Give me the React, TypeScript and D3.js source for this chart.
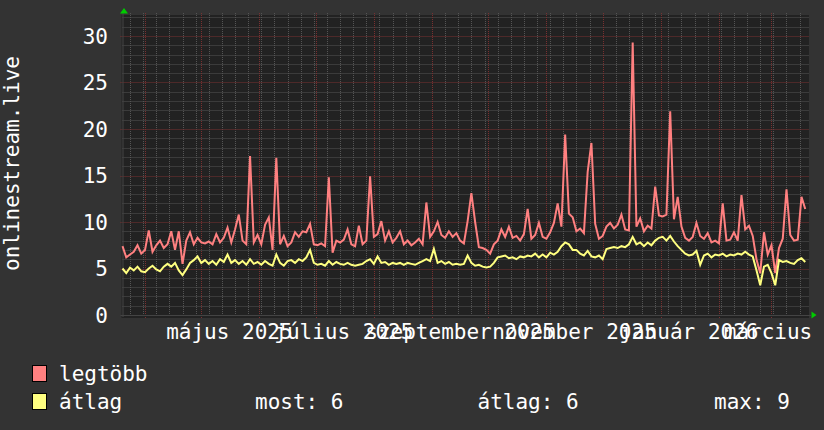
import React from "react";
import * as d3 from "d3";

// ---- data (2-day samples starting 2025-03-20) ----
const START_DATE = new Date(2025, 2, 20);
const END_DATE = new Date(2026, 2, 21);
const STEP_DAYS = 2;

const MAX_VALUES = [
  7.4, 6.2, 6.5, 6.8, 7.5, 6.6, 7.0, 9.1, 6.8, 7.5,
  8.0, 7.2, 7.6, 9.0, 7.0, 9.0, 5.5, 8.0, 8.9, 7.6,
  8.3, 7.8, 7.7, 7.9, 7.6, 8.7, 7.8, 8.3, 9.4, 7.8,
  9.2, 10.8, 8.0, 7.6, 17.1, 7.8, 8.6, 7.6, 9.7, 10.5,
  7.0, 16.9, 7.6, 8.5, 7.4, 7.8, 8.9, 8.4, 9.0, 8.9,
  9.8, 7.6, 7.5, 7.7, 7.4, 14.8, 6.7, 8.0, 7.8, 8.1,
  9.2, 7.6, 7.4, 9.6, 7.6, 8.0, 14.9, 8.4, 8.7, 10.1,
  8.0, 9.0, 7.8, 8.3, 9.0, 7.6, 8.0, 7.5, 7.8, 8.2,
  7.6, 12.1, 8.4, 9.0, 10.0, 8.6, 8.3, 9.0, 8.4, 8.8,
  8.0, 7.7, 10.1, 13.1, 10.0, 7.3, 7.2, 7.0, 6.6, 7.6,
  8.0, 9.2, 8.4, 9.5, 8.3, 8.5, 8.0, 8.7, 11.4, 8.2,
  8.6, 9.9, 8.4, 8.2, 8.9, 9.9, 12.0, 9.5, 19.4, 10.9,
  10.5, 9.0, 9.3, 8.8, 15.4, 18.5, 9.8, 8.2, 8.5, 9.5,
  9.9, 9.3, 9.7, 10.8, 9.2, 9.1, 29.3, 9.5, 10.4, 9.0,
  9.6, 9.3, 13.8, 10.7, 10.6, 10.8, 21.9, 10.3, 12.7, 9.5,
  8.3, 8.0, 8.4, 9.9, 8.5, 8.2, 8.8, 7.8, 8.0, 7.7,
  12.0, 8.0, 8.1, 8.9, 8.0, 12.9, 9.2, 9.6, 8.5, 6.0,
  4.5, 8.9, 6.5, 7.5, 4.5, 7.2, 8.2, 13.5, 8.6, 8.0,
  8.1, 12.7, 11.4,
];

const AVG_VALUES = [
  5.0, 4.5, 5.1, 4.8, 5.2, 4.7, 4.6, 5.0, 5.3, 4.9,
  4.7, 5.2, 5.5, 5.2, 5.6, 4.8, 4.3, 4.9, 5.6, 5.9,
  6.3, 5.6, 5.9, 5.5, 5.8, 5.4, 6.0, 5.7, 6.5, 5.6,
  5.9, 5.5, 5.8, 5.4, 6.0, 5.5, 5.7, 5.4, 5.8, 5.5,
  5.3, 6.5, 5.6, 5.3, 5.8, 5.9, 5.6, 6.0, 5.8, 6.2,
  7.0, 5.6, 5.4, 5.5, 5.3, 5.8, 5.4, 5.7, 5.5, 5.4,
  5.6, 5.4, 5.3, 5.4, 5.5, 5.8, 6.0, 5.5, 6.3, 5.6,
  5.7, 5.4, 5.6, 5.5, 5.6, 5.4, 5.6, 5.5, 5.4, 5.6,
  5.8, 6.0, 5.8, 7.1, 5.6, 5.8, 5.5, 5.7, 5.4, 5.5,
  5.4, 5.5, 6.4, 5.6, 5.3, 5.4, 5.2, 5.1, 5.2, 5.6,
  6.2, 6.3, 6.4, 6.1, 6.2, 6.0, 6.3, 6.2, 6.4, 6.3,
  6.6, 6.2, 6.5, 6.2, 6.7, 6.5, 6.8, 7.4, 7.8, 7.6,
  7.0, 7.0, 6.6, 6.4, 6.9, 6.3, 6.2, 6.4, 6.0, 7.1,
  7.2, 7.3, 7.2, 7.4, 7.3, 7.6, 8.4, 7.6, 7.8, 7.4,
  7.8, 7.5, 8.0, 8.3, 8.4, 8.0, 8.5, 7.9, 7.4, 7.0,
  6.6, 6.4, 6.5, 6.9, 5.4, 6.4, 6.6, 6.2, 6.5, 6.4,
  6.6, 6.3, 6.5, 6.4, 6.6, 6.5, 6.8, 6.5, 6.3, 4.8,
  3.2, 5.2, 5.4, 4.5, 3.2, 5.9, 5.7, 5.8, 5.6, 5.5,
  5.9, 6.1, 5.7,
];

const Y_TICKS = [0, 5, 10, 15, 20, 25, 30];
const X_LABELS = ["május 2025", "július 2025", "szeptember 2025", "november 2025", "január 2026", "március 2026"];
const X_LABEL_MONTHS = [
  new Date(2025, 4, 1), new Date(2025, 6, 1), new Date(2025, 8, 1),
  new Date(2025, 10, 1), new Date(2026, 0, 1), new Date(2026, 2, 1),
];
const Y_TITLE = "onlinestream.live";
const SERIES_NAMES = ["legtöbb", "átlag"];
const SERIES_COLORS = ["#ff8080", "#ffff80"];
const STATS = ["most: 6", "átlag: 6", "max: 9"];

// ---- layout ----
const W = 824, H = 430;
const PL = 122.5, PR = 809, PT = 15, PB = 315;
const FONT = "'DejaVu Sans Mono', monospace";

export default function App() {
  const x = d3.scaleTime().domain([START_DATE, END_DATE]).range([PL, PR]);
  const y = d3.scaleLinear().domain([0, 30]).range([PB, 36]);
  const yTop = y.invert(PT);

  const dateOf = (i: number) => d3.timeDay.offset(START_DATE, i * STEP_DAYS);
  const line = d3.line<number>().x((_, i) => x(dateOf(i))).y((v) => y(v));

  const minorY = d3.range(1, Math.floor(yTop) + 1).filter((v) => v % 5 !== 0);
  const majorY = Y_TICKS.filter((v) => v > 0);
  const weeks = d3.timeMonday.range(START_DATE, END_DATE);
  const months = d3.timeMonth.range(d3.timeDay.offset(START_DATE, 1), END_DATE);

  const minorColor = "#555555";
  const majorColor = "#7a3030";

  return (
    <svg width={W} height={H} style={{ position: "absolute", left: 0, top: 0, display: "block" }}
      xmlns="http://www.w3.org/2000/svg">
      <rect x={0} y={0} width={W} height={H} fill="#333333" />
      <rect x={PL - 1} y={PT} width={PR - PL + 1} height={PB - PT + 3} fill="#222222" />

      {/* minor grid */}
      {minorY.map((v) => (
        <line key={"my" + v} x1={PL} x2={PR} y1={Math.round(y(v)) + 0.5} y2={Math.round(y(v)) + 0.5}
          stroke={minorColor} strokeDasharray="1,1" />
      ))}
      {weeks.map((d) => (
        <line key={"wk" + d.getTime()} x1={Math.round(x(d)) + 0.5} x2={Math.round(x(d)) + 0.5} y1={PT - 2} y2={PB + 2}
          stroke={minorColor} strokeDasharray="1,1" />
      ))}
      {/* major grid */}
      {majorY.map((v) => (
        <line key={"My" + v} x1={PL - 2} x2={PR} y1={Math.round(y(v)) + 0.5} y2={Math.round(y(v)) + 0.5}
          stroke={majorColor} strokeDasharray="1,1" />
      ))}
      {months.map((d) => (
        <line key={"mo" + d.getTime()} x1={Math.round(x(d)) + 0.5} x2={Math.round(x(d)) + 0.5} y1={PT - 2} y2={PB + 4}
          stroke={majorColor} strokeDasharray="1,1" />
      ))}

      {/* axes */}
      <line x1={PL - 2} x2={PR + 2} y1={PB + 0.5} y2={PB + 0.5} stroke="#444444" />
      <line x1={PL + 0.5} x2={PL + 0.5} y1={PT - 2} y2={PB + 2} stroke="#444444" />
      <polygon points={`${PL - 2.5},13.5 ${PL + 5.5},13.5 ${PL + 1.5},8`} fill="#00cc00" />
      <polygon points={`${PR + 2.5},${PB - 3.5} ${PR + 2.5},${PB + 3.5} ${PR + 7.5},${PB}`} fill="#00cc00" />

      {/* series */}
      <path d={line(MAX_VALUES) || ""} fill="none" stroke={SERIES_COLORS[0]} strokeWidth={2} strokeLinejoin="miter" />
      <path d={line(AVG_VALUES) || ""} fill="none" stroke={SERIES_COLORS[1]} strokeWidth={2} strokeLinejoin="miter" />

      {/* y tick labels */}
      {Y_TICKS.map((v) => (
        <text key={"yt" + v} x={108} y={y(v) + 7.5} textAnchor="end" fill="#ffffff"
          fontFamily={FONT} fontSize={21}>{v}</text>
      ))}
      {/* x labels */}
      {X_LABELS.map((lab, i) => (
        <text key={"xl" + i} x={x(d3.timeDay.offset(X_LABEL_MONTHS[i], 15))} y={338.5} textAnchor="middle"
          fill="#ffffff" fontFamily={FONT} fontSize={21}>{lab}</text>
      ))}
      {/* y title */}
      <text transform="translate(19,163.5) rotate(-90)" textAnchor="middle" fill="#ffffff"
        fontFamily={FONT} fontSize={21}>{Y_TITLE}</text>

      {/* legend */}
      {SERIES_NAMES.map((name, i) => (
        <g key={"lg" + i}>
          <rect x={32.5} y={365.5 + i * 28} width={14} height={16} fill={SERIES_COLORS[i]} stroke="#000000" />
          <text x={59} y={380.5 + i * 28} fill="#ffffff" fontFamily={FONT} fontSize={21}>{name}</text>
        </g>
      ))}
      {STATS.map((s, i) => (
        <text key={"st" + i} x={[255, 477.5, 714][i]} y={408.5} fill="#ffffff" fontFamily={FONT} fontSize={21}>{s}</text>
      ))}
    </svg>
  );
}
